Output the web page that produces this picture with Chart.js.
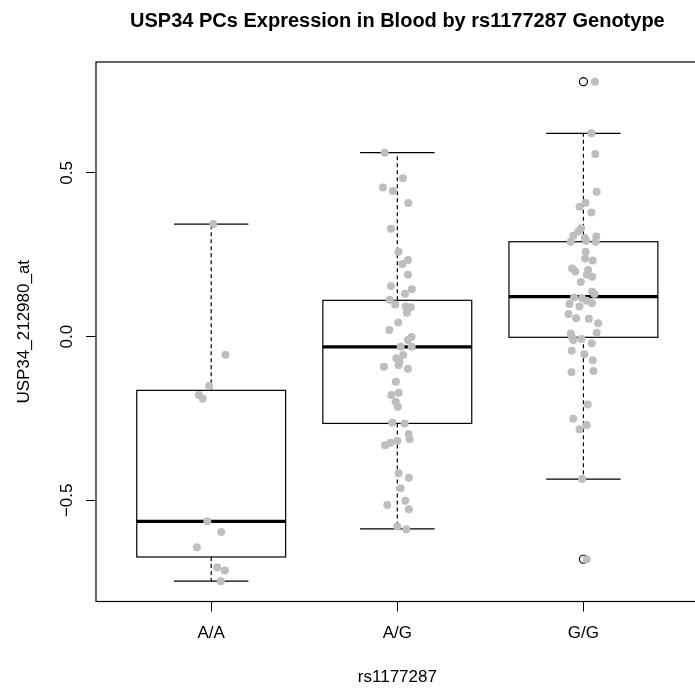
<!DOCTYPE html>
<html>
<head>
<meta charset="utf-8">
<title>USP34 PCs Expression in Blood by rs1177287 Genotype</title>
<script src="https://cdn.jsdelivr.net/npm/chart.js@4.4.1/dist/chart.umd.min.js"></script>
<style>
    html, body { margin: 0; padding: 0; background: #fff; overflow: hidden; }
    canvas { display: block; }
</style>
</head>
<body>
<canvas id="myChart" width="704" height="704"></canvas>
<script>
// Genotype groups and their expression values
const genotypes = ['A/A', 'A/G', 'G/G'];

const aaValues = [0.344, -0.055, -0.151, -0.178, -0.190, -0.564, -0.597, -0.643, -0.705, -0.714, -0.747];
const aaJitter = [0.011, 0.077, -0.011, -0.066, -0.045, -0.021, 0.054, -0.077, 0.032, 0.073, 0.052];

const agValues = [0.562, 0.484, 0.456, 0.445, 0.408, 0.330, 0.259, 0.234, 0.222, 0.189,
    0.155, 0.145, 0.131, 0.113, 0.098, 0.092, 0.090, 0.073, 0.043, 0.020,
    -0.001, -0.010, -0.031, -0.031, -0.056, -0.066, -0.076, -0.092, -0.087, -0.098,
    -0.138, -0.171, -0.178, -0.199, -0.214, -0.263, -0.265, -0.297, -0.313, -0.319,
    -0.324, -0.332, -0.417, -0.431, -0.463, -0.501, -0.514, -0.527, -0.580, -0.588];
const agJitter = [-0.068, 0.030, -0.077, -0.024, 0.059, -0.034, 0.007, 0.057, 0.027, 0.057,
    -0.034, 0.078, 0.041, -0.041, -0.011, 0.045, 0.073, 0.051, 0.005, -0.043,
    0.077, 0.057, 0.018, 0.077, 0.032, -0.005, 0.012, -0.072, 0.007, 0.057,
    -0.008, 0.007, -0.032, -0.009, 0.003, -0.027, 0.039, 0.061, 0.066, 0.000,
    -0.037, -0.066, 0.007, 0.062, 0.018, 0.043, -0.054, 0.062, 0.000, 0.048];

const ggValues = [0.779, 0.621, 0.558, 0.443, 0.409, 0.397, 0.379, 0.331, 0.321, 0.308,
    0.301, 0.306, 0.290, 0.293, 0.290, 0.259, 0.239, 0.233, 0.208, 0.199,
    0.204, 0.189, 0.183, 0.167, 0.137, 0.130, 0.120, 0.117, 0.110, 0.100,
    0.102, 0.092, 0.069, 0.056, 0.055, 0.041, 0.012, 0.010, -0.002, -0.007,
    -0.010, -0.020, -0.043, -0.054, -0.072, -0.109, -0.105, -0.207, -0.251, -0.270,
    -0.283, -0.435, -0.680];
const ggJitter = [0.062, 0.043, 0.064, 0.071, 0.011, -0.021, 0.043, -0.012, -0.028, -0.054,
    0.007, 0.069, -0.068, 0.015, 0.066, 0.012, 0.009, 0.050, -0.061, -0.043,
    0.025, 0.018, 0.047, -0.014, 0.047, 0.059, -0.050, -0.007, 0.018, -0.075,
    0.047, -0.021, -0.080, -0.039, 0.029, 0.079, 0.071, -0.068, -0.061, -0.011,
    -0.054, 0.045, -0.063, 0.005, 0.050, -0.064, 0.054, 0.023, -0.055, 0.018,
    -0.021, -0.007, 0.018];

// Box statistics per genotype
const whiskerLow = [-0.747, -0.587, -0.435];
const lowerHinge = [-0.673, -0.265, -0.002];
const medians = [-0.564, -0.031, 0.122];
const upperHinge = [-0.164, 0.111, 0.290];
const whiskerHigh = [0.344, 0.562, 0.621];
const outlierGroup = [3, 3];
const outlierValues = [0.779, -0.680];

// Axis ticks
const yTicks = [-0.5, 0, 0.5];
const yTickLabels = ['\u22120.5', '0.0', '0.5'];

const FONT = "'Liberation Sans', Arial, Helvetica, sans-serif";
Chart.defaults.font.family = FONT;
Chart.defaults.font.size = 17;
Chart.defaults.color = '#000';

function toPoints(values, jitter, group) {
    return values.map((v, i) => ({ x: group + jitter[i], y: v }));
}

const stripPoints = [].concat(
    toPoints(aaValues, aaJitter, 1),
    toPoints(agValues, agJitter, 2),
    toPoints(ggValues, ggJitter, 3)
);
const outlierPoints = outlierValues.map((v, i) => ({ x: outlierGroup[i], y: v }));

// Boxes, whiskers and the plot frame, drawn under the points
const boxplotPlugin = {
    id: 'boxplot',
    beforeDatasetsDraw(chart) {
        const { ctx, chartArea, scales: { x, y } } = chart;
        ctx.save();
        ctx.strokeStyle = '#000';
        ctx.lineWidth = 1.2;

        genotypes.forEach((g, i) => {
            const pos = i + 1;
            const cx = x.getPixelForValue(pos);
            const bl = x.getPixelForValue(pos - 0.4);
            const br = x.getPixelForValue(pos + 0.4);
            const sl = x.getPixelForValue(pos - 0.2);
            const sr = x.getPixelForValue(pos + 0.2);

            // dashed whiskers
            ctx.setLineDash([4, 3]);
            ctx.beginPath();
            ctx.moveTo(cx, y.getPixelForValue(upperHinge[i]));
            ctx.lineTo(cx, y.getPixelForValue(whiskerHigh[i]));
            ctx.moveTo(cx, y.getPixelForValue(lowerHinge[i]));
            ctx.lineTo(cx, y.getPixelForValue(whiskerLow[i]));
            ctx.stroke();
            ctx.setLineDash([]);

            // staples
            ctx.beginPath();
            ctx.moveTo(sl, y.getPixelForValue(whiskerHigh[i]));
            ctx.lineTo(sr, y.getPixelForValue(whiskerHigh[i]));
            ctx.moveTo(sl, y.getPixelForValue(whiskerLow[i]));
            ctx.lineTo(sr, y.getPixelForValue(whiskerLow[i]));
            ctx.stroke();

            // box
            const top = y.getPixelForValue(upperHinge[i]);
            const bottom = y.getPixelForValue(lowerHinge[i]);
            ctx.strokeRect(bl, top, br - bl, bottom - top);

            // median
            ctx.lineWidth = 3.2;
            ctx.beginPath();
            ctx.moveTo(bl, y.getPixelForValue(medians[i]));
            ctx.lineTo(br, y.getPixelForValue(medians[i]));
            ctx.stroke();
            ctx.lineWidth = 1.2;
        });

        // frame
        ctx.strokeRect(chartArea.left, chartArea.top,
            chartArea.right - chartArea.left, chartArea.bottom - chartArea.top);
        ctx.restore();
    },
    afterDraw(chart) {
        const { ctx, chartArea, scales: { y } } = chart;
        ctx.save();
        ctx.fillStyle = '#000';

        // main title
        ctx.font = 'bold 20px ' + FONT;
        ctx.textAlign = 'center';
        ctx.textBaseline = 'alphabetic';
        ctx.fillText('USP34 PCs Expression in Blood by rs1177287 Genotype',
            (chartArea.left + chartArea.right) / 2, 27);

        // y tick labels, rotated like the axis
        ctx.font = '17px ' + FONT;
        yTicks.forEach((v, i) => {
            ctx.save();
            ctx.translate(72, y.getPixelForValue(v));
            ctx.rotate(-Math.PI / 2);
            ctx.fillText(yTickLabels[i], 0, 0);
            ctx.restore();
        });
        ctx.restore();
    }
};

const ctx = document.getElementById('myChart').getContext('2d');
const myChart = new Chart(ctx, {
    type: 'scatter',
    data: {
        datasets: [{
            label: 'values',
            data: stripPoints,
            pointRadius: 4,
            pointHoverRadius: 4,
            backgroundColor: '#BEBEBE',
            borderWidth: 0,
            order: 1
        }, {
            label: 'outliers',
            data: outlierPoints,
            pointRadius: 4,
            pointHoverRadius: 4,
            backgroundColor: 'rgba(0,0,0,0)',
            borderColor: '#000',
            borderWidth: 1.2,
            order: 2
        }]
    },
    options: {
        responsive: false,
        animation: false,
        events: [],
        layout: { padding: { top: 62, right: 4.5, bottom: 0, left: 0 } },
        plugins: {
            legend: { display: false },
            tooltip: { enabled: false }
        },
        scales: {
            x: {
                type: 'linear',
                min: 0.381,
                max: 3.62,
                afterBuildTicks: scale => { scale.ticks = [1, 2, 3].map(v => ({ value: v })); },
                afterFit: scale => { scale.height = 102.5; },
                ticks: {
                    padding: 12,
                    maxRotation: 0,
                    callback: (value, index) => genotypes[index]
                },
                grid: {
                    drawOnChartArea: false,
                    drawTicks: true,
                    tickLength: 10,
                    tickColor: '#000',
                    tickWidth: 1
                },
                border: { display: false },
                title: {
                    display: true,
                    text: 'rs1177287',
                    padding: { top: 0, bottom: 16.8 }
                }
            },
            y: {
                type: 'linear',
                min: -0.809,
                max: 0.839,
                afterBuildTicks: scale => { scale.ticks = yTicks.map(v => ({ value: v })); },
                afterFit: scale => { scale.width = 96; },
                ticks: { display: false },
                grid: {
                    drawOnChartArea: false,
                    drawTicks: true,
                    tickLength: 10,
                    tickColor: '#000',
                    tickWidth: 1
                },
                border: { display: false },
                title: {
                    display: true,
                    text: 'USP34_212980_at',
                    padding: { top: 13.8, bottom: 0 }
                }
            }
        }
    },
    plugins: [boxplotPlugin]
});
</script>
</body>
</html>
